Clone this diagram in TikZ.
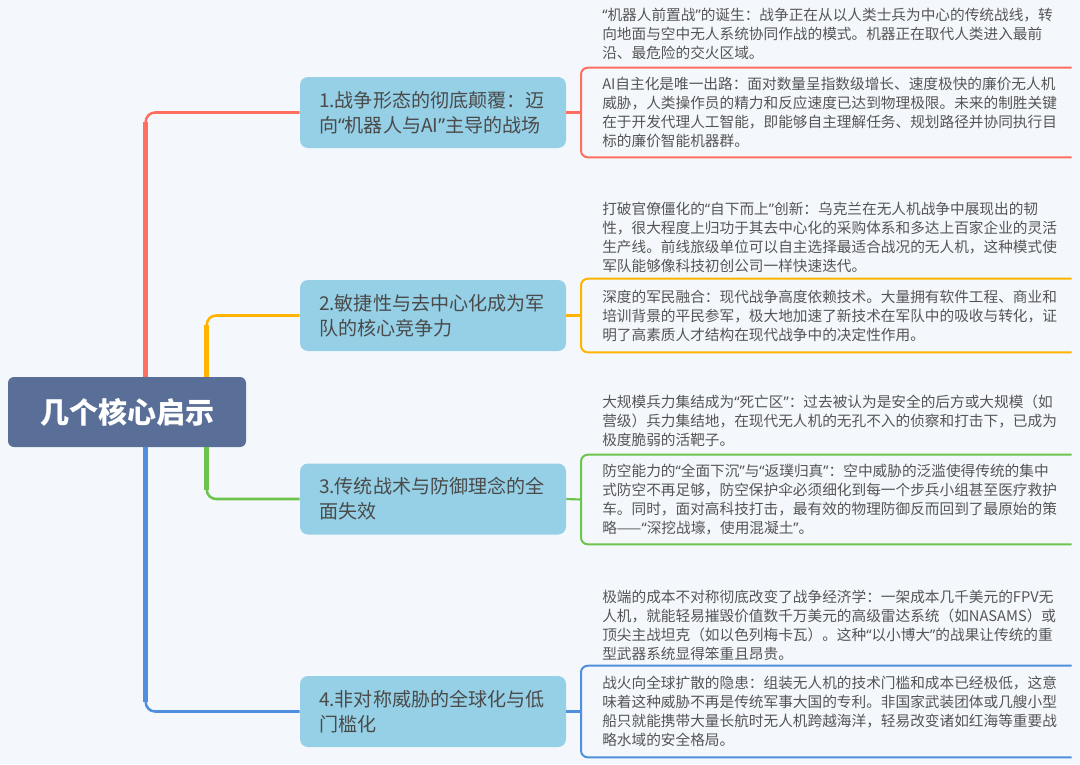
\documentclass[tikz,border=0pt]{standalone}
\usepackage{fontspec}
\setmainfont{Noto Sans CJK SC}
\newfontfamily\quofont{Noto Sans}
\newcommand{\oquo}{{\quofont “}}
\newcommand{\cquo}{{\quofont ”}}
\usepackage{xcolor}
\usepackage{tikz}
\usetikzlibrary{positioning, calc}

\definecolor{bgcol}{HTML}{F4F8FC}
\definecolor{rootcol}{HTML}{5A6F98}
\definecolor{topicfill}{HTML}{95D0E6}
\definecolor{topictext}{HTML}{4A4A4A}
\definecolor{detailtext}{HTML}{555555}
\definecolor{cRed}{HTML}{FF6F5F}
\definecolor{cOrange}{HTML}{FFB400}
\definecolor{cGreen}{HTML}{6CC44F}
\definecolor{cBlue}{HTML}{4F8FDD}

\begin{document}
\begin{tikzpicture}[x=0.75pt, y=-0.75pt,
    rootbox/.style={fill=rootcol, rounded corners=4.5pt, minimum width=178.5pt, minimum height=52.5pt,
        text=white, font=\fontsize{21.75pt}{26pt}\selectfont\bfseries},
    topicbox/.style={fill=topicfill, rounded corners=6pt, minimum width=199.5pt, minimum height=53.25pt,
        inner xsep=14.25pt, text width=171pt, align=left, text=topictext,
        font=\fontsize{14.3pt}{18.75pt}\selectfont},
    detail/.style={anchor=west, inner xsep=15.75pt, inner ysep=2pt, text width=336pt, align=left,
        text=detailtext, font=\fontsize{11pt}{14.25pt}\selectfont},
    branch/.style={draw=#1, line width=1.9pt, rounded corners=7pt},
    trunk/.style={draw=#1, line width=3.4pt, shorten >=7pt},
    link/.style={draw=#1, line width=1.6pt},
    brk/.style={draw=#1, line width=1.5pt, rounded corners=5pt}]

    \useasboundingbox (0,0) rectangle (1080,764);
    \fill[bgcol] (0,0) rectangle (1080,764);

    % 中心主题
    \node[rootbox] (root) at (127,412) {几个核心启示};

    % 四个分支主题
    \node[topicbox] (t1) at (433,112.5) {1.战争形态的彻底颠覆：迈\\向\oquo 机器人与AI\cquo 主导的战场};
    \node[topicbox] (t2) at (433,315.5) {2.敏捷性与去中心化成为军\\队的核心竞争力};
    \node[topicbox] (t3) at (433,499) {3.传统战术与防御理念的全\\面失效};
    \node[topicbox] (t4) at (433,711.5) {4.非对称威胁的全球化与低\\门槛化};

    % 分支连线
    \coordinate (rA) at ($(root.north west)+(138,0)$);
    \coordinate (rB) at ($(root.north west)+(199,0)$);
    \coordinate (rC) at ($(root.south west)+(199,0)$);
    \coordinate (rD) at ($(root.south west)+(138,0)$);
    \draw[branch=cRed] (rA) |- (t1.west);
    \draw[trunk=cRed] (rA) -- (rA |- t1.west);
    \draw[branch=cOrange] (rB) |- (t2.west);
    \draw[trunk=cOrange] (rB) -- (rB |- t2.west);
    \draw[branch=cGreen] (rC) |- (t3.west);
    \draw[trunk=cGreen] (rC) -- (rC |- t3.west);
    \draw[branch=cBlue] (rD) |- (t4.west);
    \draw[trunk=cBlue] (rD) -- (rD |- t4.west);

    % 1
    \node[detail] (d1a) at (581,34) {\oquo 机器人前置战\cquo 的诞生：战争正在从以人类士兵为中心的传统战线，转\\
        向地面与空中无人系统协同作战的模式。机器正在取代人类进入最前\\
        沿、最危险的交火区域。};
    \node[detail, minimum height=66.75pt] (d1b) at (581,112.5) {AI自主化是唯一出路：面对数量呈指数级增长、速度极快的廉价无人机\\
        威胁，人类操作员的精力和反应速度已达到物理极限。未来的制胜关键\\
        在于开发代理人工智能，即能够自主理解任务、规划路径并协同执行目\\
        标的廉价智能机器群。};
    \draw[link=cRed] (t1.east) -- (d1b.west);
    \draw[brk=cRed] (d1b.north east) -| (d1b.west) |- (d1b.south east);

    % 2
    \node[detail] (d2a) at (581,237) {打破官僚僵化的\oquo 自下而上\cquo 创新：乌克兰在无人机战争中展现出的韧\\
        性，很大程度上归功于其去中心化的采购体系和多达上百家企业的灵活\\
        生产线。前线旅级单位可以自主选择最适合战况的无人机，这种模式使\\
        军队能够像科技初创公司一样快速迭代。};
    \node[detail, minimum height=54.75pt] (d2b) at (581,315.5) {深度的军民融合：现代战争高度依赖技术。大量拥有软件工程、商业和\\
        培训背景的平民参军，极大地加速了新技术在军队中的吸收与转化，证\\
        明了高素质人才结构在现代战争中的决定性作用。};
    \draw[link=cOrange] (t2.east) -- (d2b.west);
    \draw[brk=cOrange] (d2b.north east) -| (d2b.west) |- (d2b.south east);

    % 3
    \node[detail] (d3a) at (581,421) {大规模兵力集结成为\oquo 死亡区\cquo ：过去被认为是安全的后方或大规模（如\\
        营级）兵力集结地，在现代无人机的无孔不入的侦察和打击下，已成为\\
        极度脆弱的活靶子。};
    \node[detail, minimum height=66.75pt] (d3b) at (581,499.5) {防空能力的\oquo 全面下沉\cquo 与\oquo 返璞归真\cquo ：空中威胁的泛滥使得传统的集中\\
        式防空不再足够，防空保护伞必须细化到每一个步兵小组甚至医疗救护\\
        车。同时，面对高科技打击，最有效的物理防御反而回到了最原始的策\\
        略——\oquo 深挖战壕，使用混凝土\cquo 。};
    \draw[link=cGreen] (t3.east) -- (d3b.west);
    \draw[brk=cGreen] (d3b.north east) -| (d3b.west) |- (d3b.south east);

    % 4
    \node[detail] (d4a) at (581,625) {极端的成本不对称彻底改变了战争经济学：一架成本几千美元的FPV无\\
        人机，就能轻易摧毁价值数千万美元的高级雷达系统（如NASAMS）或\\
        顶尖主战坦克（如以色列梅卡瓦）。这种\oquo 以小博大\cquo 的战果让传统的重\\
        型武器系统显得笨重且昂贵。};
    \node[detail, minimum height=68.25pt] (d4b) at (581,711.5) {战火向全球扩散的隐患：组装无人机的技术门槛和成本已经极低，这意\\
        味着这种威胁不再是传统军事大国的专利。非国家武装团体或几艘小型\\
        船只就能携带大量长航时无人机跨越海洋，轻易改变诸如红海等重要战\\
        略水域的安全格局。};
    \draw[link=cBlue] (t4.east) -- (d4b.west);
    \draw[brk=cBlue] (d4b.north east) -| (d4b.west) |- (d4b.south east);
\end{tikzpicture}
\end{document}
